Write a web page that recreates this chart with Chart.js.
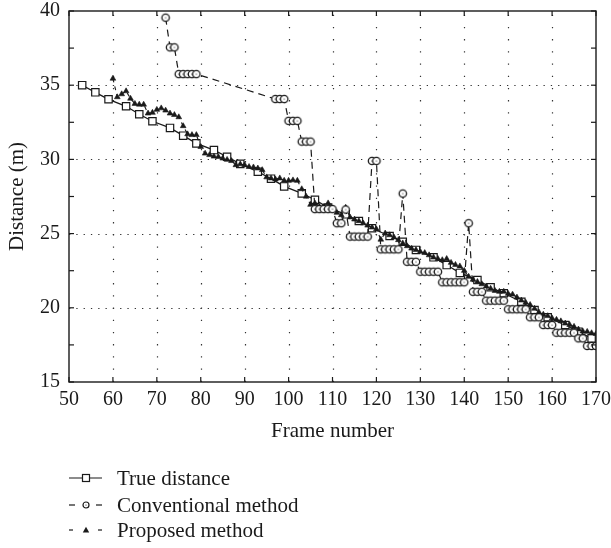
<!DOCTYPE html>
<html>
<head>
<meta charset="utf-8">
<script src="https://cdn.jsdelivr.net/npm/chart.js@4.4.1/dist/chart.umd.min.js"></script>
<style>
  html, body { margin: 0; padding: 0; background: #ffffff; }
  #wrap { width: 611px; height: 548px; position: relative; }
  canvas { display: block; }
</style>
</head>
<body>
<div id="wrap"><canvas id="c" width="611" height="548"></canvas></div>
<script>
// ---------- data ----------
const seriesNames = ["True distance", "Conventional method", "Proposed method"];

const trueFrames = [53,56,59,63,66,69,73,76,79,83,86,89,93,96,99,103,106,109,113,116,119,123,126,129,133,136,139,143,146,149,153,156,159,163,166,169];
const trueDist = [35.0,34.52,34.05,33.58,33.04,32.57,32.12,31.6,31.08,30.63,30.18,29.7,29.17,28.7,28.18,27.71,27.28,26.75,26.3,25.85,25.36,24.84,24.45,23.9,23.4,22.88,22.35,21.87,21.38,20.98,20.41,19.85,19.36,18.84,18.39,17.94];

const convFrames = [72,73,74,75,76,77,78,79,
  97,98,99,100,101,102,103,104,105,106,107,108,109,110,111,112,113,114,115,116,117,118,119,120,
  121,122,123,124,125,126,127,128,129,130,131,132,133,134,135,136,137,138,139,140,141,142,143,144,
  145,146,147,148,149,150,151,152,153,154,155,156,157,158,159,160,161,162,163,164,165,166,167,168,169,170];
const convDist = [39.55,37.55,37.55,35.75,35.75,35.75,35.75,35.75,
  34.07,34.07,34.07,32.6,32.6,32.6,31.2,31.2,31.2,26.65,26.65,26.65,26.65,26.65,25.7,25.7,26.62,24.8,24.8,24.8,24.8,24.8,29.9,29.9,
  23.94,23.94,23.94,23.94,23.94,27.7,23.1,23.1,23.1,22.43,22.43,22.43,22.43,22.43,21.72,21.72,21.72,21.72,21.72,21.72,25.7,21.08,21.08,21.08,
  20.48,20.48,20.48,20.48,20.48,19.9,19.9,19.9,19.9,19.9,19.36,19.36,19.36,18.84,18.84,18.84,18.32,18.32,18.32,18.32,18.32,17.94,17.94,17.43,17.43,17.43];

const propFrames = [60,61,62,63,64,65,66,67,68,69,70,71,72,73,74,75,76,77,78,79,80,81,82,83,84,85,86,87,88,89,
  90,91,92,93,94,95,96,97,98,99,100,101,102,103,104,105,106,107,108,109,110,111,112,113,114,115,116,117,118,119,
  120,121,122,123,124,125,126,127,128,129,130,131,132,133,134,135,136,137,138,139,140,141,142,143,144,145,146,147,148,149,
  150,151,152,153,154,155,156,157,158,159,160,161,162,163,164,165,166,167,168,169,170];
const propDist = [35.45,34.2,34.4,34.6,34.1,33.75,33.7,33.7,33.1,33.15,33.35,33.45,33.3,33.1,33.0,32.85,32.25,31.7,31.65,31.65,30.85,30.4,30.3,30.2,30.18,30.07,29.98,29.9,29.62,29.68,
  29.62,29.5,29.47,29.4,29.29,28.8,28.73,28.66,28.73,28.57,28.57,28.6,28.57,28.0,27.5,26.95,27.04,26.82,26.8,27.05,26.7,26.41,26.25,26.75,26.1,25.96,25.85,25.7,25.55,25.42,
  25.3,24.6,25.02,24.9,24.75,24.57,24.35,24.16,24.0,23.9,23.78,23.7,23.55,23.4,23.3,23.22,23.3,23.04,22.9,22.8,22.5,22.1,21.9,21.75,21.6,21.45,21.3,21.15,21.09,21.09,
  20.95,20.9,20.7,20.5,20.35,20.2,19.95,19.7,19.55,19.45,19.3,19.2,19.1,18.95,18.85,18.73,18.55,18.42,18.39,18.3,18.25];

const xTitle = "Frame number";
const yTitle = "Distance (m)";

// ---------- styling ----------
const INK = "#1a1a1a";
const FONT = "'Liberation Serif', 'DejaVu Serif', serif";

function pairs(xs, ys) { return xs.map((x, i) => ({ x: x, y: ys[i] })); }

// circle marker with a small center mark
function makeCircleMarker(r, lw) {
  const s = Math.ceil(r * 2 + 4);
  const cv = document.createElement('canvas');
  cv.width = s; cv.height = s;
  const g = cv.getContext('2d');
  g.fillStyle = '#fff';
  g.strokeStyle = INK;
  g.lineWidth = lw;
  g.beginPath(); g.arc(s / 2, s / 2, r, 0, Math.PI * 2); g.fill(); g.stroke();
  g.fillStyle = INK;
  g.beginPath(); g.arc(s / 2, s / 2, 0.6, 0, Math.PI * 2); g.fill();
  return cv;
}
const circleMarker = makeCircleMarker(3.7, 1.3);
const circleMarkerLegend = makeCircleMarker(3.0, 1.2);

// frame, ticks, grid and legend drawn through the chart scales
const framePlugin = {
  id: 'framePlugin',
  beforeDatasetsDraw(chart) {
    const { ctx, chartArea: a, scales: { x, y } } = chart;
    ctx.save();
    ctx.strokeStyle = '#333';
    ctx.lineWidth = 1.2;
    ctx.setLineDash([1.3, 10.9]);
    x.ticks.forEach(t => {
      if (t.value <= x.min || t.value >= x.max) return;
      const px = Math.round(x.getPixelForValue(t.value)) + 0.5;
      ctx.beginPath(); ctx.moveTo(px, a.bottom); ctx.lineTo(px, a.top); ctx.stroke();
    });
    ctx.setLineDash([1.3, 6.0]);
    y.ticks.forEach(t => {
      if (t.value <= y.min || t.value >= y.max) return;
      const py = Math.round(y.getPixelForValue(t.value)) + 0.5;
      ctx.beginPath(); ctx.moveTo(a.left, py); ctx.lineTo(a.right, py); ctx.stroke();
    });
    ctx.restore();
  },
  afterDatasetsDraw(chart) {
    const { ctx, chartArea: a, scales: { x, y } } = chart;
    ctx.save();
    ctx.strokeStyle = INK;
    ctx.lineWidth = 1.4;
    ctx.setLineDash([]);
    ctx.strokeRect(a.left, a.top, a.right - a.left, a.bottom - a.top);
    ctx.lineWidth = 1.2;
    const tl = 5;
    x.ticks.forEach(t => {
      const px = x.getPixelForValue(t.value);
      ctx.beginPath(); ctx.moveTo(px, a.bottom); ctx.lineTo(px, a.bottom - tl); ctx.stroke();
      ctx.beginPath(); ctx.moveTo(px, a.top); ctx.lineTo(px, a.top + tl); ctx.stroke();
    });
    for (let v = y.min; v <= y.max + 1e-9; v += 2.5) {
      const py = y.getPixelForValue(v);
      ctx.beginPath(); ctx.moveTo(a.left, py); ctx.lineTo(a.left + tl, py); ctx.stroke();
      ctx.beginPath(); ctx.moveTo(a.right, py); ctx.lineTo(a.right - tl, py); ctx.stroke();
    }
    ctx.restore();
  },
  afterDraw(chart) {
    const { ctx } = chart;
    const rows = [478, 505, 530];
    const x0 = 69, x1 = 102, xm = 86, xt = 117;
    ctx.save();
    ctx.strokeStyle = INK;
    ctx.fillStyle = INK;
    ctx.lineWidth = 1.2;
    let yy = rows[0];
    ctx.beginPath(); ctx.moveTo(x0, yy); ctx.lineTo(x1, yy); ctx.stroke();
    ctx.fillStyle = '#fff';
    ctx.fillRect(xm - 3.5, yy - 3.5, 7, 7);
    ctx.strokeRect(xm - 3.5, yy - 3.5, 7, 7);
    yy = rows[1];
    ctx.beginPath(); ctx.moveTo(x0, yy); ctx.lineTo(x0 + 6, yy); ctx.stroke();
    ctx.beginPath(); ctx.moveTo(x1 - 6, yy); ctx.lineTo(x1, yy); ctx.stroke();
    ctx.drawImage(circleMarkerLegend, xm - circleMarkerLegend.width / 2, yy - circleMarkerLegend.height / 2);
    yy = rows[2];
    ctx.beginPath(); ctx.moveTo(x0, yy); ctx.lineTo(x0 + 4, yy); ctx.stroke();
    ctx.beginPath(); ctx.moveTo(x1 - 4, yy); ctx.lineTo(x1, yy); ctx.stroke();
    ctx.fillStyle = INK;
    ctx.beginPath();
    ctx.moveTo(xm, yy - 3.2); ctx.lineTo(xm + 3.2, yy + 2.4); ctx.lineTo(xm - 3.2, yy + 2.4); ctx.closePath();
    ctx.fill();
    ctx.fillStyle = '#1a1a1a';
    ctx.font = "21px " + FONT;
    ctx.textBaseline = 'middle';
    ctx.textAlign = 'left';
    seriesNames.forEach((n, i) => ctx.fillText(n, xt, rows[i] + 1));
    ctx.restore();
  }
};

Chart.defaults.font.family = FONT;
Chart.defaults.color = '#1a1a1a';

new Chart(document.getElementById('c'), {
  type: 'line',
  data: {
    datasets: [
      {
        label: seriesNames[0],
        data: pairs(trueFrames, trueDist),
        borderColor: INK, borderWidth: 1.3,
        pointStyle: 'rect', pointRadius: 5.2,
        pointBackgroundColor: '#fff', pointBorderColor: INK, pointBorderWidth: 1.2,
        tension: 0, order: 2
      },
      {
        label: seriesNames[1],
        data: pairs(convFrames, convDist),
        borderColor: INK, borderWidth: 1.2, borderDash: [7, 5],
        pointStyle: circleMarker, pointRadius: 3.7,
        tension: 0, order: 0
      },
      {
        label: seriesNames[2],
        data: pairs(propFrames, propDist),
        borderColor: INK, borderWidth: 1.1, borderDash: [4, 4],
        pointStyle: 'triangle', pointRadius: 3.3,
        pointBackgroundColor: INK, pointBorderColor: INK, pointBorderWidth: 0.6,
        tension: 0, order: 1
      }
    ]
  },
  options: {
    responsive: false,
    animation: false,
    devicePixelRatio: 1,
    layout: { padding: { left: 0, right: 15, top: 11, bottom: 100 } },
    plugins: { legend: { display: false }, tooltip: { enabled: false } },
    scales: {
      x: {
        type: 'linear', min: 50, max: 170,
        ticks: { stepSize: 10, padding: 6, font: { size: 20 }, color: '#1a1a1a', maxRotation: 0 },
        grid: { display: false, drawTicks: false },
        border: { display: false },
        title: { display: true, text: xTitle, font: { size: 21 }, color: '#1a1a1a', padding: { top: 4, bottom: 4 } },
        afterFit(s) { s.height = 66; s.paddingLeft = 0; s.paddingRight = 0; }
      },
      y: {
        type: 'linear', min: 15, max: 40,
        ticks: { stepSize: 5, padding: 9, font: { size: 20 }, color: '#1a1a1a' },
        grid: { display: false, drawTicks: false },
        border: { display: false },
        title: { display: true, text: yTitle, font: { size: 21 }, color: '#1a1a1a', padding: { top: 5, bottom: 4 } },
        afterFit(s) { s.width = 69; s.paddingTop = 0; s.paddingBottom = 0; }
      }
    }
  },
  plugins: [framePlugin]
});
</script>
</body>
</html>
